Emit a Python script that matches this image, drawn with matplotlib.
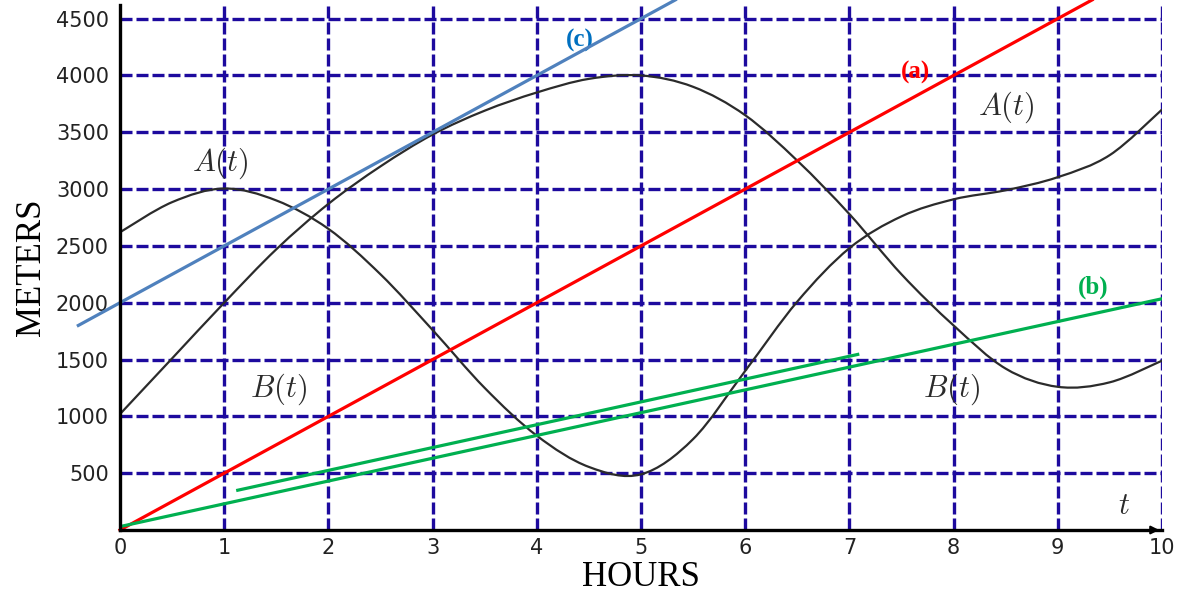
import numpy as np
import matplotlib.pyplot as plt
from matplotlib.path import Path
from matplotlib.patches import PathPatch

# values
hours = [0, 0.5, 1, 1.5, 2, 2.5, 3, 3.5, 4, 4.5, 5, 5.5, 6, 6.5, 7, 7.5, 8, 8.5, 9, 9.5, 10]
a_vals = [2620, 2885, 3005, 2900, 2650, 2250, 1760, 1250, 830, 555, 490, 800, 1400, 2010,
          2480, 2760, 2910, 2990, 3105, 3300, 3700]
b_vals = [1020, 1510, 2000, 2470, 2870, 3200, 3480, 3690, 3850, 3970, 4000, 3900, 3650, 3250,
          2780, 2250, 1800, 1420, 1260, 1300, 1490]

line_a_t = [0, 9.33]
line_a_y = [0, 4665]
line_b_t = [0, 10]
line_b_y = [30, 2035]
line_b2_t = [1.13, 7.08]
line_b2_y = [350, 1545]
line_c_t = [-0.4, 5.33]
line_c_y = [1800, 4665]

x_ticks = list(range(0, 11))
y_ticks = [500, 1000, 1500, 2000, 2500, 3000, 3500, 4000, 4500]

GRID = '#1d0a9e'
INK = '#2b2b2b'


def smooth_path(xs, ys):
    # Catmull-Rom through the read points, drawn as cubic Bezier segments
    p = np.column_stack([xs, ys]).astype(float)
    ext = np.vstack([p[0], p, p[-1]])
    verts = [p[0]]
    codes = [Path.MOVETO]
    for i in range(len(p) - 1):
        p0, p1, p2, p3 = ext[i], ext[i + 1], ext[i + 2], ext[i + 3]
        verts += [p1 + (p2 - p0) / 6, p2 - (p3 - p1) / 6, p2]
        codes += [Path.CURVE4] * 3
    return Path(verts, codes)


fig = plt.figure(figsize=(11.8, 5.94), dpi=100)
ax = fig.add_axes([120 / 1180, 1 - 530 / 594, 1042 / 1180, 525 / 594])
ax.set_xlim(0, 10)
ax.set_ylim(0, 4620)

for t in x_ticks[1:]:
    ax.axvline(t, color=GRID, lw=2.4, dashes=(3.6, 1.2), zorder=1)
for v in y_ticks:
    ax.axhline(v, color=GRID, lw=2.4, dashes=(3.6, 1.2), zorder=1)

for vals in (a_vals, b_vals):
    ax.add_patch(PathPatch(smooth_path(hours, vals), fill=False, ec=INK, lw=1.6, zorder=3))

ax.plot(line_a_t, line_a_y, color='#ff0000', lw=2.3, clip_on=False, zorder=4)
ax.plot(line_b_t, line_b_y, color='#00b050', lw=2.3, zorder=4)
ax.plot(line_b2_t, line_b2_y, color='#00b050', lw=2.3, zorder=4)
ax.plot(line_c_t, line_c_y, color='#4f81bd', lw=2.3, clip_on=False, zorder=4)

ax.text(7.63, 4030, '(a)', color='#ff0000', fontsize=18, fontweight='bold',
        family='Liberation Serif', ha='center', va='center')
ax.text(9.34, 2140, '(b)', color='#00b050', fontsize=18, fontweight='bold',
        family='Liberation Serif', ha='center', va='center')
ax.text(4.41, 4310, '(c)', color='#0070c0', fontsize=18, fontweight='bold',
        family='Liberation Serif', ha='center', va='center')

plt.rcParams['mathtext.fontset'] = 'cm'
for tx, ty, s in [(0.96, 3230, '$A(t)$'), (8.51, 3720, '$A(t)$'),
                  (1.52, 1235, '$B(t)$'), (7.98, 1235, '$B(t)$'), (9.64, 220, '$t$')]:
    ax.text(tx, ty, s, color=INK, fontsize=22, ha='center', va='center')

for side in ('top', 'right'):
    ax.spines[side].set_visible(False)
for side in ('left', 'bottom'):
    ax.spines[side].set_linewidth(2.4)
    ax.spines[side].set_zorder(5)
ax.annotate('', xy=(10, 0), xytext=(9.85, 0),
            arrowprops=dict(arrowstyle='-|>', color='black', lw=1.5, mutation_scale=12))

ax.set_xticks(x_ticks)
ax.set_yticks(y_ticks)
ax.tick_params(length=0, labelsize=15, labelcolor='#222222')
ax.tick_params(axis='x', pad=6)
ax.tick_params(axis='y', pad=8)

ax.set_xlabel('HOURS', family='Liberation Serif', fontsize=25, labelpad=2)
ax.set_ylabel('METERS', family='Liberation Serif', fontsize=25, labelpad=6)

fig.savefig('out.png', dpi=100)
